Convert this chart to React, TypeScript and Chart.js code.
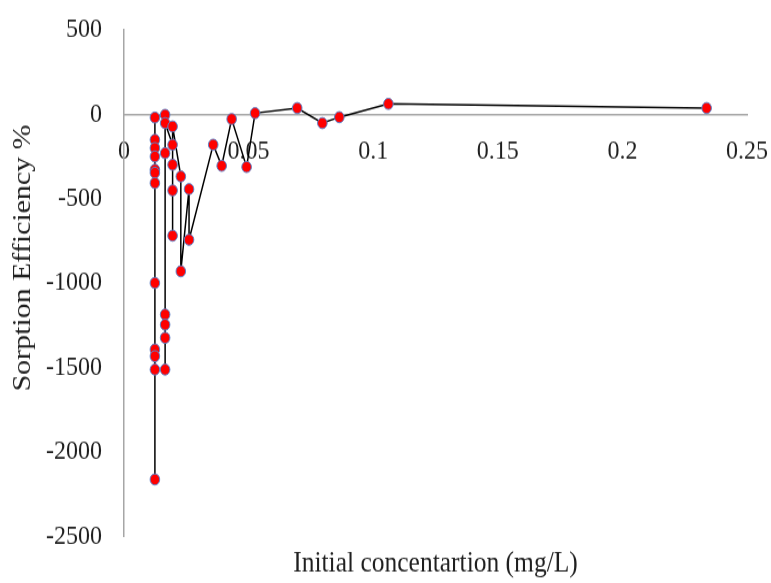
import React, { useEffect, useRef } from "react";
import { Chart, registerables } from "chart.js";

Chart.register(...registerables);

// Initial concentration (mg/L), in drawing order
const concentration = [
  0.0124, 0.0124, 0.0124, 0.0124, 0.0124, 0.0124, 0.0124, 0.0124, 0.0124, 0.0124, 0.0124, 0.0124,
  0.0165, 0.0165, 0.0165, 0.0165, 0.0165, 0.0165, 0.0165,
  0.0195, 0.0195, 0.0195, 0.0195, 0.0195,
  0.0228, 0.0228,
  0.0261, 0.0261,
  0.0358, 0.0392, 0.0432, 0.0492, 0.0526, 0.0695, 0.0796, 0.0864, 0.1061, 0.2338,
];
// Sorption efficiency (%)
const efficiency = [
  -151, -200, -250, -328, -346, -407, -999, -1393, -1433, -1512, -2163, -19,
  -3, -230, -1186, -1246, -1324, -1512, -52,
  -180, -299, -451, -719, -72,
  -368, -930,
  -443, -743,
  -180, -305, -28, -312, 7, 37, -52, -17, 62, 37,
];

const xTickLabels = ["0", "0.05", "0.1", "0.15", "0.2", "0.25"];
const yTickLabels = ["-2500", "-2000", "-1500", "-1000", "-500", "0", "500"];
const xTitle = "Initial concentartion (mg/L)";
const yTitle = "Sorption Efficiency %";

const FONT = "'Liberation Serif', 'Times New Roman', serif";
const TEXT = "#1f1f1f";
const STRETCH = 1.15;
const W = 771;
const H_CSS = 583;
const H = Math.round(H_CSS / STRETCH);

const yTitlePlugin = {
  id: "yTitleText",
  afterDraw(chart: any) {
    const ctx = chart.ctx;
    ctx.save();
    ctx.translate(23, 258 / STRETCH);
    ctx.rotate(-Math.PI / 2);
    ctx.font = `26px ${FONT}`;
    ctx.fillStyle = TEXT;
    ctx.textAlign = "center";
    ctx.textBaseline = "middle";
    ctx.fillText(yTitle, 0, 0);
    ctx.restore();
  },
};

export default function App() {
  const ref = useRef<HTMLCanvasElement | null>(null);

  useEffect(() => {
    if (!ref.current) return;
    const points = concentration.map((x, i) => ({ x, y: efficiency[i] }));
    const chart = new Chart(ref.current, {
      type: "scatter",
      data: {
        datasets: [
          {
            data: points,
            showLine: true,
            borderColor: "#000000",
            borderWidth: 1.5,
            pointBackgroundColor: "#ff0000",
            pointBorderColor: "#5b7fc7",
            pointBorderWidth: 1,
            pointRadius: 4.8,
            tension: 0,
          },
        ],
      },
      options: {
        animation: false,
        responsive: false,
        devicePixelRatio: 1,
        layout: { padding: { left: 0, right: 24, top: 26, bottom: 0 } },
        plugins: { legend: { display: false }, tooltip: { enabled: false } },
        scales: {
          x: {
            type: "linear",
            position: { y: 0 } as any,
            min: 0,
            max: 0.25,
            ticks: {
              stepSize: 0.05,
              padding: 0,
              autoSkip: false,
              maxRotation: 0,
              color: TEXT,
              font: { family: FONT, size: 24 },
              callback: (_v: any, i: number) => xTickLabels[i] ?? "",
            },
            grid: { display: false, drawTicks: true, tickLength: 18 },
            border: { display: true, color: "#a6a6a6", width: 1.5 },
          },
          xt: {
            type: "linear",
            axis: "x",
            position: "bottom",
            display: true,
            ticks: { display: false },
            grid: { display: false, drawTicks: false },
            border: { display: false },
            title: {
              display: true,
              text: xTitle,
              color: TEXT,
              font: { family: FONT, size: 25.5 },
              padding: { top: 9, bottom: 1 },
            },
          },
          y: {
            type: "linear",
            min: -2500,
            max: 500,
            afterFit: (s: any) => {
              s.width = 124;
            },
            ticks: {
              stepSize: 500,
              padding: 0,
              color: TEXT,
              font: { family: FONT, size: 24 },
              callback: (_v: any, i: number) => yTickLabels[i] ?? "",
            },
            grid: { display: false, drawTicks: true, tickLength: 22 },
            border: { display: true, color: "#a6a6a6", width: 1.5 },
          },
        },
      } as any,
      plugins: [yTitlePlugin],
    });
    return () => chart.destroy();
  }, []);

  return (
    <canvas
      ref={ref}
      width={W}
      height={H}
      style={{
        display: "block",
        position: "absolute",
        left: 0,
        top: 0,
        width: `${W}px`,
        height: `${H_CSS}px`,
      }}
    />
  );
}
